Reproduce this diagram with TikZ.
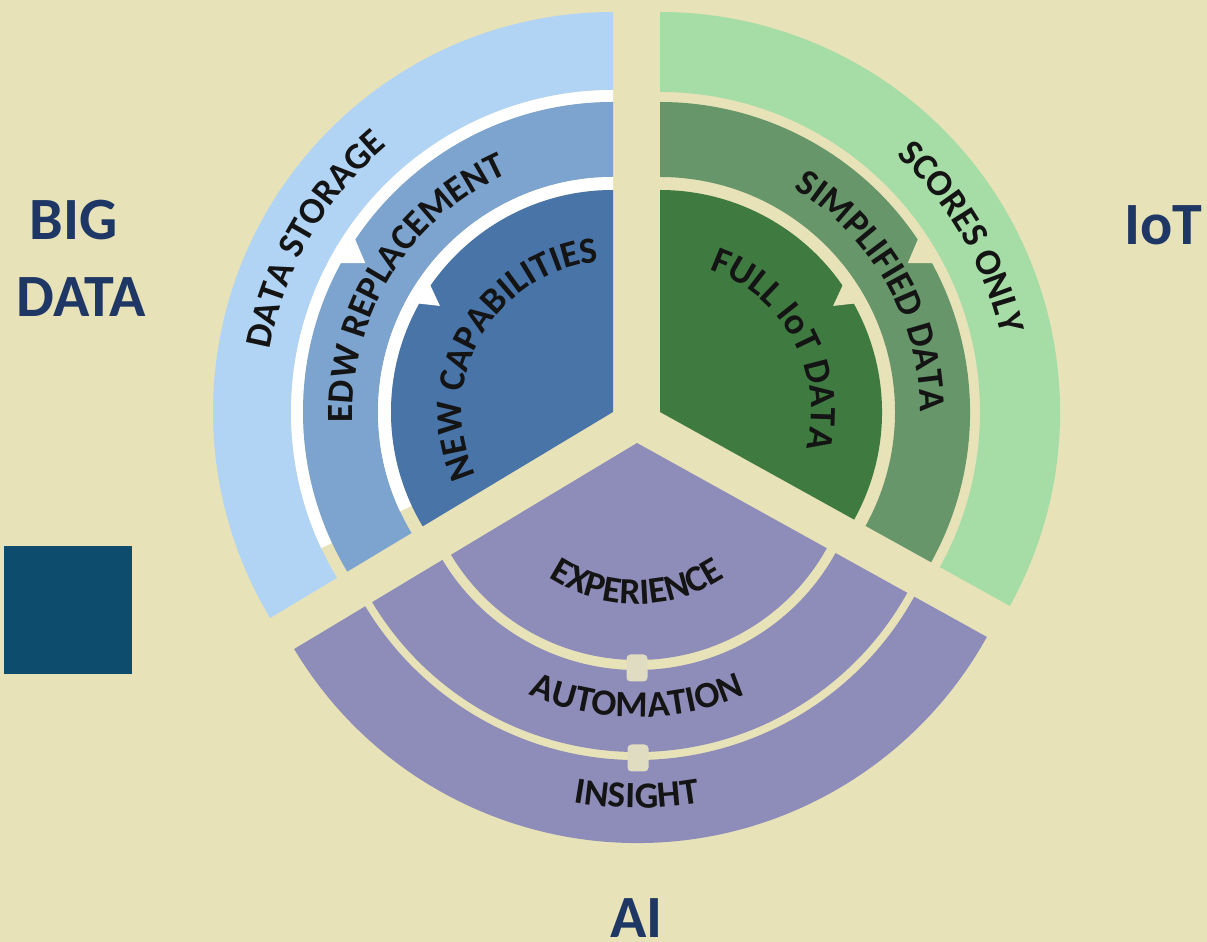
\documentclass[tikz,border=0pt]{standalone}
\usepackage{fontspec}
\setmainfont{Carlito}
\usetikzlibrary{calc,decorations.text}

\definecolor{paper}{RGB}{232,226,184}
\definecolor{lightblue}{RGB}{177,212,245}
\definecolor{midblue}{RGB}{125,164,206}
\definecolor{darkblue}{RGB}{72,116,167}
\definecolor{lightgreen}{RGB}{166,220,166}
\definecolor{midgreen}{RGB}{103,150,106}
\definecolor{darkgreen}{RGB}{63,122,65}
\definecolor{lilac}{RGB}{142,140,184}
\definecolor{navy}{RGB}{30,55,100}
\definecolor{boxblue}{RGB}{14,76,110}
\definecolor{joint}{RGB}{224,220,194}
\definecolor{ink}{RGB}{20,20,20}

\newcommand\arcfont{\fontsize{37}{42}\selectfont\bfseries}
\newcommand\ringpart[6]{\fill[#1] ($(#2)+(#3:#6)$) arc[start angle=#3,end angle=#4,radius=#6] -- ($(#2)+(#4:#5)$) arc[start angle=#4,end angle=#3,radius=#5] -- cycle;}

\begin{document}
\begin{tikzpicture}[x=1pt,y=1pt,
	headline/.style={font=\fontsize{60}{72}\selectfont\bfseries,text=navy,inner sep=0pt,anchor=base},
	arclabel/.style={decorate,decoration={text along path,text align=center,text color=ink,text={|\arcfont|#1}}},
	jointbox/.style={fill=joint,rounded corners=4pt,minimum width=21pt,minimum height=27pt,inner sep=0pt}]
	\fill[paper] (0,0) rectangle (1207,942);
	\useasboundingbox (0,0) rectangle (1207,942);
	\coordinate (L) at (613,530);
	\coordinate (R) at (660,530);
	\coordinate (B) at (637,499);

	\ringpart{lightblue}{L}{90}{211}{322}{400}
	\ringpart{white}{L}{90}{205}{310}{322}
	\ringpart{midblue}{L}{90}{211}{235}{310}
	\ringpart{white}{L}{90}{205}{222}{235}
	\fill[darkblue] (L) -- ++(90:222) arc[start angle=90,end angle=211,radius=222] -- cycle;
	\fill[white] ($(L)+(146:312)$) -- ($(L)+(149:289)$) -- ($(L)+(151.5:312)$) -- cycle;
	\fill[white] ($(L)+(145:224)$) -- ($(L)+(148.5:203)$) -- ($(L)+(151:224)$) -- cycle;

	\ringpart{lightgreen}{R}{-29}{90}{320}{400}
	\ringpart{midgreen}{R}{-29}{90}{235}{310}
	\fill[darkgreen] (R) -- ++(-29:222) arc[start angle=-29,end angle=90,radius=222] -- cycle;
	\fill[paper] ($(R)+(34:312)$) -- ($(R)+(31:289)$) -- ($(R)+(28.5:312)$) -- cycle;
	\fill[paper] ($(R)+(35:224)$) -- ($(R)+(31.5:203)$) -- ($(R)+(29:224)$) -- cycle;

	\ringpart{lilac}{B}{211}{331}{317}{400}
	\ringpart{lilac}{B}{211}{331}{227}{309}
	\fill[lilac] (B) -- ++(211:217) arc[start angle=211,end angle=331,radius=217] -- cycle;
	\node[jointbox] (jointA) at (637,274) {};
	\node[jointbox] (jointB) at (638,184) {};

	\path[arclabel={DATA STORAGE}] ($(L)+(210:349)$) arc[start angle=210,end angle=90,radius=349];
	\path[arclabel={EDW REPLACEMENT}] ($(L)+(208:260)$) arc[start angle=208,end angle=88,radius=260];
	\path[arclabel={NEW CAPABILITIES}] ($(L)+(210:151)$) arc[start angle=210,end angle=90,radius=151];
	\path[arclabel={SCORES ONLY}] ($(R)+(90:349)$) arc[start angle=90,end angle=-30,radius=349];
	\path[arclabel={SIMPLIFIED DATA}] ($(R)+(89.5:260)$) arc[start angle=89.5,end angle=-30.5,radius=260];
	\path[arclabel={FULL IoT DATA}] ($(R)+(88.5:151)$) arc[start angle=88.5,end angle=-31.5,radius=151];
	\path[arclabel={EXPERIENCE}] ($(B)+(210:161)$) arc[start angle=210,end angle=330,radius=161];
	\path[arclabel={AUTOMATION}] ($(B)+(210:274)$) arc[start angle=210,end angle=330,radius=274];
	\path[arclabel={INSIGHT}] ($(B)+(210:365)$) arc[start angle=210,end angle=330,radius=365];

	\node[headline] (bigword) at (73.5,702) {BIG};
	\node[headline] (dataword) at (81.5,625) {DATA};
	\node[headline] (iotword) at (1163,697) {IoT};
	\node[headline] (aiword) at (636.5,4) {AI};
	\node[fill=boxblue,minimum width=128pt,minimum height=128pt,inner sep=0pt] (keybox) at (68,332) {};
\end{tikzpicture}
\end{document}
